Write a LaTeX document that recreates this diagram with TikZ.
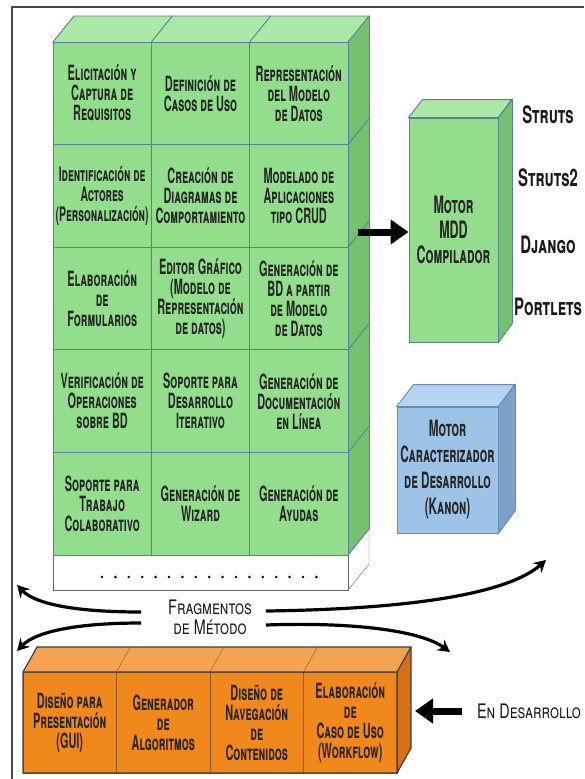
\documentclass[tikz,border=0pt]{standalone}
\usepackage{fontspec}
\setmainfont{TeX Gyre Heros}
\newfontfamily\boxfont[FakeStretch=0.52]{TeX Gyre Heros}
\newfontfamily\tallfont[FakeStretch=0.62]{TeX Gyre Heros}
\newfontfamily\labelfont[FakeStretch=0.72]{TeX Gyre Heros}
\usetikzlibrary{arrows.meta}
\definecolor{greenfront}{RGB}{146,222,140}
\definecolor{greentop}{RGB}{172,232,166}
\definecolor{greenside}{RGB}{116,194,112}
\definecolor{gridline}{RGB}{86,130,150}
\definecolor{bluefront}{RGB}{157,195,230}
\definecolor{bluetop}{RGB}{182,212,240}
\definecolor{blueside}{RGB}{122,162,205}
\definecolor{blueline}{RGB}{100,140,180}
\definecolor{orangefront}{RGB}{240,136,28}
\definecolor{orangetop}{RGB}{245,162,82}
\definecolor{orangeside}{RGB}{214,112,22}
\definecolor{orangeline}{RGB}{140,88,44}
\definecolor{framegray}{RGB}{70,70,70}

\begin{document}
\begin{tikzpicture}[x=1pt, y=-1pt]
    \tikzset{cell/.style={draw=gridline, line width=0.9pt, fill=greenfront, minimum width=98.33pt, minimum height=102.6pt, inner sep=0pt, align=center, text=black!85, font=\boxfont\bfseries\scshape\fontsize{21}{20}\selectfont}}
    \tikzset{ocell/.style={cell, draw=orangeline, fill=orangefront, minimum width=93.5pt, minimum height=101pt}}
    \tikzset{target/.style={inner sep=0pt, text=black!90, font=\tallfont\bfseries\scshape\fontsize{24}{24}\selectfont}}
    \tikzset{caption/.style={inner sep=0pt, align=center, text=black!90, font=\labelfont\scshape\fontsize{20}{20}\selectfont}}
    \tikzset{bigarrow/.style={line width=7pt, -{Triangle[length=18pt, width=24pt]}}}
    \tikzset{fragarrow/.style={line width=3.2pt, -{Stealth[length=12pt, width=13pt, inset=4pt]}}}

    \useasboundingbox (0,0) rectangle (584,779);
    \fill[white] (0,0) rectangle (584,779);
    \draw[framegray, line width=2pt] (12,779) -- (12,7) -- (584,7);

    % green block: top and side faces
    \fill[greentop] (53,42) -- (74,16) -- (369,16) -- (348,42) -- cycle;
    \fill[greenside] (348,42) -- (369,16) -- (369,529) -- (348,555) -- cycle;
    \fill[white] (348,555) -- (369,529) -- (369,564) -- (348,590) -- cycle;
    \draw[gridline, line width=0.9pt] (151.33,42) -- (172.33,16);
    \draw[gridline, line width=0.9pt] (249.67,42) -- (270.67,16);
    \foreach \y in {144.6, 247.2, 349.8, 452.4, 555}
        \draw[gridline, line width=0.9pt] (348,\y) -- (369,\y-26);
    \draw[gridline, line width=0.9pt] (53,42) -- (74,16) -- (369,16) -- (348,42);
    \draw[gridline, line width=0.9pt] (369,16) -- (369,529);
    \draw[black!60] (369,529) -- (369,564) -- (348,590);

    % white base with dots
    \draw[black!60, fill=white] (53,555) rectangle (348,590);
    \foreach \i in {0,...,16}
        \fill (102+\i*13.4, 577) circle (1.4);

    % method fragments
    \node[cell] (elic)    at (102.17,93.3)  {Elicitación y\\Captura de\\Requisitos};
    \node[cell] (casos)   at (200.5,93.3)   {Definición de\\Casos de Uso};
    \node[cell] (repr)    at (298.83,93.3)  {Representación\\del Modelo\\de Datos};
    \node[cell, font=\boxfont\bfseries\scshape\fontsize{20}{20}\selectfont] (actores) at (102.17,195.9) {Identificación de\\Actores\\(Personalización)};
    \node[cell] (diagr)   at (200.5,195.9)  {Creación de\\Diagramas de\\Comportamiento};
    \node[cell] (crud)    at (298.83,195.9) {Modelado de\\Aplicaciones\\tipo CRUD};
    \node[cell] (form)    at (102.17,298.5) {Elaboración\\de\\Formularios};
    \node[cell] (editor)  at (200.5,298.5)  {Editor Gráfico\\(Modelo de\\Representación\\de datos)};
    \node[cell] (genbd)   at (298.83,298.5) {Generación de\\BD a partir\\de Modelo\\de Datos};
    \node[cell] (verif)   at (102.17,401.1) {Verificación de\\Operaciones\\sobre BD};
    \node[cell] (iter)    at (200.5,401.1)  {Soporte para\\Desarrollo\\Iterativo};
    \node[cell] (doc)     at (298.83,401.1) {Generación de\\Documentación\\en Línea};
    \node[cell] (colab)   at (102.17,503.7) {Soporte para\\Trabajo\\Colaborativo};
    \node[cell] (wizard)  at (200.5,503.7)  {Generación de\\Wizard};
    \node[cell] (ayudas)  at (298.83,503.7) {Generación de\\Ayudas};

    % MDD engine
    \node[cell, minimum width=89pt, minimum height=224pt, font=\boxfont\bfseries\scshape\fontsize{24}{25}\selectfont] (mdd) at (453.5,230) {Motor\\MDD\\Compilador};
    \filldraw[gridline, line width=0.9pt, fill=greentop] (mdd.north west) -- ++(14,-18) -- ++(89,0) -- (mdd.north east) -- cycle;
    \filldraw[gridline, line width=0.9pt, fill=greenside] (mdd.north east) -- ++(14,-18) -- ++(0,224) -- (mdd.south east) -- cycle;

    \node[target] (struts)   at (548,115) {Struts};
    \node[target] (struts2)  at (548,178) {Struts2};
    \node[target] (django)   at (548,245) {Django};
    \node[target] (portlets) at (548,307) {Portlets};

    \coordinate (gside) at (358,232);
    \draw[bigarrow] (gside) -- (gside -| mdd.west);

    % Kanon engine
    \node[cell, draw=blueline, fill=bluefront, minimum width=101pt, minimum height=126pt, font=\boxfont\bfseries\scshape\fontsize{22.5}{26}\selectfont] (kanon) at (447.5,470) {Motor\\Caracterizador\\de Desarrollo\\(Kanon)};
    \filldraw[blueline, line width=0.9pt, fill=bluetop] (kanon.north west) -- ++(17,-22) -- ++(101,0) -- (kanon.north east) -- cycle;
    \filldraw[blueline, line width=0.9pt, fill=blueside] (kanon.north east) -- ++(17,-22) -- ++(0,126) -- (kanon.south east) -- cycle;

    % fragments under development
    \fill[orangetop] (23,672) -- (37,647) -- (411,647) -- (397,672) -- cycle;
    \fill[orangeside] (397,672) -- (411,647) -- (411,748) -- (397,773) -- cycle;
    \foreach \x in {116.5, 210, 303.5}
        \draw[orangeline] (\x,672) -- (\x+14,647);
    \node[ocell] (gui)    at (69.75,722.5)  {Diseño para\\Presentación\\(GUI)};
    \node[ocell] (algor)  at (163.25,722.5) {Generador\\de\\Algoritmos};
    \node[ocell] (naveg)  at (256.75,722.5) {Diseño de\\Navegación\\de\\Contenidos};
    \node[ocell] (flow)   at (350.25,722.5) {Elaboración\\de\\Caso de Uso\\(Workflow)};
    \draw[black!75, line width=1.2pt] (23,672) -- (37,647) -- (411,647) -- (411,748) -- (397,773) -- (23,773) -- cycle;
    \draw[black!75, line width=1.2pt] (397,672) -- (411,647) (397,672) -- (397,773) (23,672) -- (397,672);

    \node[caption] (endes) at (529,711) {En Desarrollo};
    \coordinate (oside) at (415,711);
    \draw[bigarrow] ([xshift=-15pt]endes.west) -- (oside);

    % method fragments label and arrows
    \node[caption] (frag) at (210,617) {Fragmentos\\de Método};
    \coordinate (aul) at (17,585);
    \coordinate (all) at (17,651);
    \coordinate (aur) at (546,560);
    \coordinate (alr) at (450,652);
    \draw[fragarrow] ([xshift=-27pt,yshift=5pt]frag.west) .. controls (75,612) and (35,604) .. (aul);
    \draw[fragarrow] ([xshift=-27pt,yshift=-6pt]frag.west) .. controls (75,623) and (35,632) .. (all);
    \draw[fragarrow] ([xshift=14pt,yshift=6pt]frag.east) .. controls (420,609) and (510,592) .. (aur);
    \draw[fragarrow] ([xshift=14pt,yshift=-8pt]frag.east) .. controls (350,622) and (420,630) .. (alr);
\end{tikzpicture}
\end{document}
